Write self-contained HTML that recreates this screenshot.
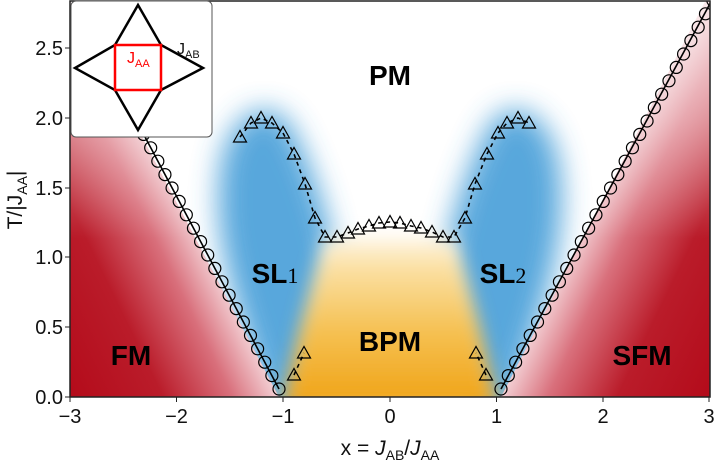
<!DOCTYPE html>
<html><head><meta charset="utf-8"><style>
html,body{margin:0;padding:0;background:#fff;}
svg{display:block;font-family:"Liberation Sans",sans-serif;}
</style></head><body>
<svg id="s" width="720" height="462" viewBox="0 0 720 462" xmlns="http://www.w3.org/2000/svg">
<defs>
<linearGradient id="rl" gradientUnits="userSpaceOnUse" x1="60" y1="500" x2="285" y2="390">
<stop offset="0" stop-color="#b00010"/><stop offset="0.55" stop-color="#ba1c2a"/><stop offset="0.8" stop-color="#d9707c"/><stop offset="1" stop-color="#f8e2e5"/>
</linearGradient>
<linearGradient id="rr" gradientUnits="userSpaceOnUse" x1="720" y1="500" x2="495" y2="390">
<stop offset="0" stop-color="#b00010"/><stop offset="0.55" stop-color="#ba1c2a"/><stop offset="0.8" stop-color="#d9707c"/><stop offset="1" stop-color="#f8e2e5"/>
</linearGradient>
<linearGradient id="yg" x1="0" y1="1" x2="0" y2="0">
<stop offset="0" stop-color="#f0a010"/><stop offset="0.45" stop-color="#f5c050"/><stop offset="0.85" stop-color="#fbe2a8"/><stop offset="1" stop-color="#fff6e6"/>
</linearGradient>
<linearGradient id="wf" x1="0" y1="0" x2="0" y2="1">
<stop offset="0" stop-color="#fff" stop-opacity="1"/><stop offset="0.3" stop-color="#fff" stop-opacity="0.55"/><stop offset="0.6" stop-color="#fff" stop-opacity="0"/>
</linearGradient>
<filter id="b1" x="-50%" y="-50%" width="200%" height="200%"><feGaussianBlur stdDeviation="14"/></filter>
<filter id="b2" x="-50%" y="-50%" width="200%" height="200%"><feGaussianBlur stdDeviation="9"/></filter>
<clipPath id="cp"><rect x="70" y="1" width="640" height="396"/></clipPath>
<clipPath id="cm"><polygon points="279,397 72,6 712,-12 501,397"/></clipPath>
</defs>
<g clip-path="url(#cp)">
<rect x="70" y="1" width="640" height="396" fill="#fff"/>
<polygon points="70,0 279,397 70,397" fill="url(#rl)"/>
<polygon points="501,397 710,397 712,-12" fill="url(#rr)"/>
<rect x="70" y="1" width="640" height="396" fill="url(#wf)" opacity="0.7"/>
<g clip-path="url(#cm)">
<path d="M270,420 C250,330 210,260 220,170 C228,110 270,95 290,125 C310,160 330,220 335,260 C325,330 305,380 300,420 Z" fill="#3a98d6" filter="url(#b1)" opacity="0.85"/>
<path d="M510,420 C530,330 570,260 560,170 C552,110 510,95 490,125 C470,160 450,220 445,260 C455,330 475,380 480,420 Z" fill="#3a98d6" filter="url(#b1)" opacity="0.85"/>
<path d="M282,410 L300,330 L325,238 L455,238 L480,330 L498,410 Z" fill="url(#yg)" filter="url(#b2)"/>
</g>
<path d="M279,389 L136,120" stroke="#000" stroke-width="1.6"/>
<path d="M501,389 L712,0" stroke="#000" stroke-width="1.6"/>
<polyline points="240,137 251,123 261,118 272,123 283,133 294,154 305,184 315,218 325,237 337,237 348,233 358,229 369,226 379,223 390,222 400,223 411,226 421,228 432,232 443,237 454,237 465,218 475,184 487,154 498,133 507,123 518,118 529,123" fill="none" stroke="#000" stroke-width="1.6" stroke-dasharray="4,4"/>
<polyline points="294,375 304,353" fill="none" stroke="#000" stroke-width="1.6" stroke-dasharray="4,4"/>
<polyline points="486,375 476,353" fill="none" stroke="#000" stroke-width="1.6" stroke-dasharray="4,4"/>
<g id="mk" fill="none" stroke="#000" stroke-width="1.2"></g>
</g>
<rect x="70" y="1" width="640" height="396" fill="none" stroke="#222" stroke-width="1.5"/>
<g stroke="#222" stroke-width="1">
<line x1="70" y1="397" x2="70" y2="402"/><line x1="176.5" y1="397" x2="176.5" y2="402"/><line x1="283" y1="397" x2="283" y2="402"/><line x1="390" y1="397" x2="390" y2="402"/><line x1="496.5" y1="397" x2="496.5" y2="402"/><line x1="603" y1="397" x2="603" y2="402"/><line x1="709" y1="397" x2="709" y2="402"/>
<line x1="65" y1="397" x2="70" y2="397"/><line x1="65" y1="327" x2="70" y2="327"/><line x1="65" y1="257" x2="70" y2="257"/><line x1="65" y1="188" x2="70" y2="188"/><line x1="65" y1="118" x2="70" y2="118"/><line x1="65" y1="48" x2="70" y2="48"/>
</g>
<g font-size="20" fill="#111" text-anchor="middle">
<text x="70" y="423">−3</text><text x="176.5" y="423">−2</text><text x="283" y="423">−1</text><text x="390" y="423">0</text><text x="496.5" y="423">1</text><text x="603" y="423">2</text><text x="709" y="423">3</text>
</g>
<g font-size="20" fill="#111" text-anchor="end">
<text x="63" y="404">0.0</text><text x="63" y="334">0.5</text><text x="63" y="264">1.0</text><text x="63" y="195">1.5</text><text x="63" y="125">2.0</text><text x="63" y="55">2.5</text>
</g>
<text x="390" y="455" font-size="21" text-anchor="middle" fill="#111">x = <tspan font-style="italic">J</tspan><tspan font-size="14" dy="5">AB</tspan><tspan dy="-5">/</tspan><tspan font-style="italic">J</tspan><tspan font-size="14" dy="5">AA</tspan></text>
<text transform="translate(22,200) rotate(-90)" font-size="21" text-anchor="middle" fill="#111">T/|J<tspan font-size="14" dy="5">AA</tspan><tspan dy="-5">|</tspan></text>
<g font-weight="bold" fill="#000" text-anchor="middle">
<text x="390" y="85" font-size="28">PM</text>
<text x="275" y="283" font-size="28">SL<tspan font-weight="normal" font-family="Liberation Serif" font-size="22">1</tspan></text>
<text x="503" y="283" font-size="28">SL<tspan font-weight="normal" font-family="Liberation Serif" font-size="22">2</tspan></text>
<text x="131" y="365" font-size="28">FM</text>
<text x="390" y="351" font-size="28">BPM</text>
<text x="642" y="365" font-size="28">SFM</text>
</g>
<rect x="71" y="1" width="141" height="136" rx="5" fill="#fff" stroke="#555" stroke-width="1"/>
<polygon points="138,5 161,45 203,68 161,90 138,130 115,90 75,68 115,45" fill="none" stroke="#000" stroke-width="2.5" stroke-linejoin="miter"/>
<rect x="115" y="45" width="46" height="45" fill="none" stroke="#f00" stroke-width="2.5"/>
<text x="127" y="63" font-size="16" fill="#f00">J<tspan font-size="11" dy="4">AA</tspan></text>
<text x="177" y="54" font-size="16" fill="#111">J<tspan font-size="11" dy="4">AB</tspan></text>
<script>
var g=document.getElementById('mk'),ns='http://www.w3.org/2000/svg';
function c(x,y){var e=document.createElementNS(ns,'circle');e.setAttribute('cx',x);e.setAttribute('cy',y);e.setAttribute('r',6);g.appendChild(e);}
function t(x,y){var e=document.createElementNS(ns,'polygon');e.setAttribute('points',(x-6.5)+','+(y+5)+' '+x+','+(y-6.5)+' '+(x+6.5)+','+(y+5));g.appendChild(e);}
for(var y=389;y>125;y-=13.4){c(279-0.532*(389-y),y);}
for(var y=389;y>0;y-=13.4){c(501+0.545*(389-y),y);}
[[240,137],[251,123],[261,118],[272,123],[283,133],[294,154],[305,184],[315,218],[325,237],[337,237],[348,233],[358,229],[369,226],[379,223],[390,222],[400,223],[411,226],[421,228],[432,232],[443,237],[454,237],[465,218],[475,184],[487,154],[498,133],[507,123],[518,118],[529,123],[294,375],[304,353],[486,375],[476,353]].forEach(function(p){t(p[0],p[1]);});
</script>
</svg>
</body></html>
